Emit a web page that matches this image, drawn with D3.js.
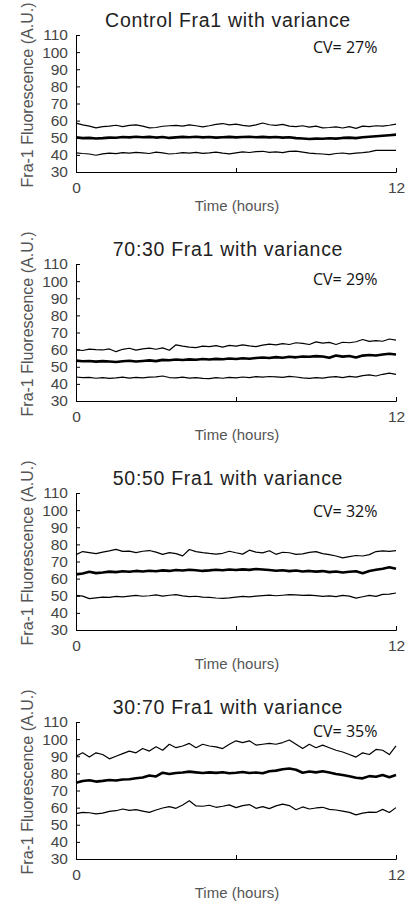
<!DOCTYPE html>
<html>
<head>
<meta charset="utf-8">
<script src="https://cdn.jsdelivr.net/npm/d3@7"></script>
<style>
  body { margin: 0; background: #fff; }
  svg { display: block; }
  .tick text { font-family: "Liberation Sans", Arial, sans-serif; font-size: 15.5px; fill: #444; }
  .domain, .tick line { stroke: #000; }
  .title { font-family: "Liberation Sans", Arial, sans-serif; font-size: 19.5px; fill: #222; letter-spacing: 0.7px; }
  .ylabel, .xlabel { font-family: "Liberation Sans", Arial, sans-serif; font-size: 16px; fill: #555; }
  .xlabel { font-size: 15px; }
  .cv { font-family: "Open Sans", sans-serif; font-size: 16px; fill: #111; }
</style>
</head>
<body>
<svg id="svg_canvas" width="412" height="907"></svg>
<script>
let titles = ['Control Fra1 with variance', '70:30 Fra1 with variance', '50:50 Fra1 with variance', '30:70 Fra1 with variance']
let cvLabels = ['CV= 27%', 'CV= 29%', 'CV= 32%', 'CV= 35%']
let yTicks = [30, 40, 50, 60, 70, 80, 90, 100, 110]
let xTicks = [0, 6, 12]
let xTickLabels = ['0', '', '12']

// control
let controlUpper = [58.5,57.5,56.8,55.8,56.5,56.8,57.3,56.5,57.2,57.5,56.8,55.8,56,56.7,57,57.2,56.8,57.5,57,56.3,57,57.8,58.3,57.5,58,57.2,56.8,57.5,58.6,57.6,57.2,57.8,56.8,56.5,57,56.2,56.8,55.8,56,56.3,55.7,56.5,55.5,56.8,56.5,57,56.8,57.3,58]
let controlMean = [50.2,49.8,49.9,49.6,49.8,50.1,50,50.4,50.2,50.6,50.3,50.5,50.1,50.4,49.9,50.2,50.5,50.3,50.6,50.2,50.4,50.1,50.3,50.5,50.2,50.4,50.6,50.3,50.5,50.2,50.4,50.1,50.3,49.8,49.6,49.3,49.5,49.4,49.7,49.5,49.9,50.1,49.8,50.3,50.6,50.9,51.2,51.5,51.8]
let controlLower = [41.2,40.8,40.5,39.8,40.6,41,40.7,41.3,41,41.5,41.2,40.8,41.6,41.2,40.5,40.8,41.3,41,41.5,40.9,41.2,41.6,41,40.6,41.2,41.8,41.4,41.9,42.1,41.5,41.8,41.3,42,42.2,41.6,41,40.7,40.5,40.2,40.8,41.1,40.6,41,41.3,41.8,42.6,42.7,42.6,42.6]

// 70:30
let r7030Upper = [60,59.5,60.3,60,59.8,60.4,58.8,60.2,60.8,59.7,60.4,60.9,60.2,61,59.6,62.8,62,61.5,61.2,62,61.7,62.3,61.5,62.5,62,62.8,62.2,61.8,62.6,63.2,62.8,63.5,63,64,63.6,63,64.5,63.8,64.2,63,64.3,64,64.6,65.9,64.8,65.2,64.9,66.2,65.6]
let r7030Mean = [53.6,53.2,53.4,53,53.3,53.1,52.8,53.2,53.5,53.1,53.4,53.7,53.3,54,53.8,54.2,53.9,54.3,54.1,54.5,54.2,54.6,54.4,54.8,54.5,55,54.7,55.1,55.4,55.1,55.6,55.3,55.8,55.5,56,55.8,56.2,56,55.2,56.6,55.9,56.3,55.4,56.5,56.9,56.6,57.2,57.6,57.2]
let r7030Lower = [44,43.6,43.8,43.3,43.7,43.2,43.5,43.9,43.4,43.8,43.5,43.9,44.1,44.6,43.7,43.5,43.9,43.4,43.7,43.2,43.1,43.6,43.3,43.8,43.5,44,43.7,44.2,43.9,44.3,44.1,43.8,44.4,44,43.5,43.2,43.7,43.4,43.9,44.2,43.6,44.4,43.9,44.8,45.3,44.6,45.6,46.3,45.6]

// 50:50
let r5050Upper = [74,75.8,75.2,74.6,75.5,76.2,77.1,75.9,76.1,75.2,76,76.4,75.5,74.2,75.2,74.6,73.3,77,75.8,75.2,74.7,74.3,74.8,76,75.1,74.3,76.6,75.5,75,76.3,74.2,75.4,75.1,74.2,74.5,75.3,75.8,74.6,74,73.2,72.1,72.8,73.5,73.2,74,75.8,76.2,75.9,76.4]
let r5050Mean = [62.5,63,64,63.2,63.6,64.1,63.8,64.3,64,64.5,64.2,64.6,64.3,64.8,64.5,65,64.7,65.2,64.9,64.5,64.8,65.2,64.9,65.3,65,65.4,65.1,65.6,65.3,65,64.6,64.9,64.4,64.7,64.2,64.5,64.1,64.4,63.8,64.2,63.6,64,64.3,63.1,64.5,65.2,65.8,66.6,65.8]
let r5050Lower = [50.2,49.8,48.3,48.8,49.2,49,49.6,49.3,49.8,50.2,49.7,50,50.5,49.8,50.3,50.7,49.9,49.5,49.7,49.2,49,48.7,48.5,48.8,49.2,49.6,49.3,49.8,50.1,50.4,50,50.3,50.6,50.5,50.2,50.4,50.1,49.6,49.9,49.5,50.2,49.8,48.6,49.4,50.2,49.6,50.8,51,51.6]

// 30:70
let r3070Upper = [90,92,89.5,92,91,88.5,90,91.5,93,92,94.5,93,95.5,93.5,97,95,96,97.5,95,97,96,95.5,94.5,97,99,98,99,96.5,97,97.5,97,98,99.5,97,94.5,97,95,96.5,95,93.5,92.5,91,89.5,92,91,94,93.5,91,96]
let r3070Mean = [74.5,75.5,76,75.2,75.6,76.1,75.8,76.4,76.6,77.2,77.6,78.8,78.2,80.4,79.6,80.2,80.5,81,80.6,80.2,80.6,80.3,80.7,80.1,80.4,80.8,80.2,80.5,80.1,81.2,81.6,82.4,82.8,82.1,80.4,81.1,80.6,81.2,80.5,79.6,79.1,78.3,77.4,77.1,78.4,78,79,77.8,79]
let r3070Lower = [56.5,57.2,57,56.4,56.8,57.8,58.2,59.2,58.4,58.8,58,57.2,58.6,59.8,60.6,59.6,61.5,64,61,60.8,61.4,60.2,60.8,61.6,60,61.2,61.8,59.6,60.6,59.4,61,62,61.2,58.8,60.4,59.2,59.8,60.2,59,58.6,58,57.2,55.8,56.8,57.4,57.2,59,57.2,60]

let panels = [
    {upper: controlUpper, mean: controlMean, lower: controlLower, cvY: 53},
    {upper: r7030Upper, mean: r7030Mean, lower: r7030Lower, cvY: 56},
    {upper: r5050Upper, mean: r5050Mean, lower: r5050Lower, cvY: 59},
    {upper: r3070Upper, mean: r3070Mean, lower: r3070Lower, cvY: 50}
]

let svg = d3.select('svg')
let pitch = 229

let x = d3.scaleLinear()
    .domain([0, 12])
    .range([76, 396])

let y = d3.scaleLinear()
    .domain([30, 110])
    .range([172, 35])

let line = d3.line()
    .x((d, i, arr) => x(i / (arr.length - 1) * 12))
    .y(d => y(d))

let panel = svg.selectAll('.panel')
    .data(panels)
    .enter().append('g')
    .attr('class', 'panel')
    .attr('transform', (d, i) => `translate(0, ${i * pitch})`)

panel.append('g')
    .attr('transform', `translate(${x(0)}, 0)`)
    .call(d3.axisLeft(y).tickValues(yTicks).tickSize(-4).tickPadding(8))

panel.append('g')
    .attr('transform', `translate(0, ${y(30)})`)
    .call(d3.axisBottom(x).tickValues(xTicks).tickFormat((d, i) => xTickLabels[i]).tickSize(-4).tickPadding(10))

panel.selectAll('.series')
    .data(d => [d.upper, d.lower, d.mean])
    .enter().append('path')
    .attr('class', 'series')
    .attr('fill', 'none')
    .attr('stroke', '#000')
    .attr('stroke-width', (d, i) => i == 2 ? 2.6 : 1.2)
    .attr('stroke-linejoin', 'round')
    .attr('d', line)

panel.append('text')
    .attr('class', 'title')
    .attr('x', 228)
    .attr('y', 27)
    .attr('text-anchor', 'middle')
    .text((d, i) => titles[i])

panel.append('text')
    .attr('class', 'cv')
    .attr('x', 313)
    .attr('y', d => d.cvY)
    .text((d, i) => cvLabels[i])

panel.append('text')
    .attr('class', 'ylabel')
    .attr('transform', 'translate(33, 95) rotate(-90)')
    .attr('text-anchor', 'middle')
    .text('Fra-1 Fluorescence (A.U.)')

panel.append('text')
    .attr('class', 'xlabel')
    .attr('x', 237)
    .attr('y', 211)
    .attr('text-anchor', 'middle')
    .text('Time (hours)')
</script>
</body>
</html>
